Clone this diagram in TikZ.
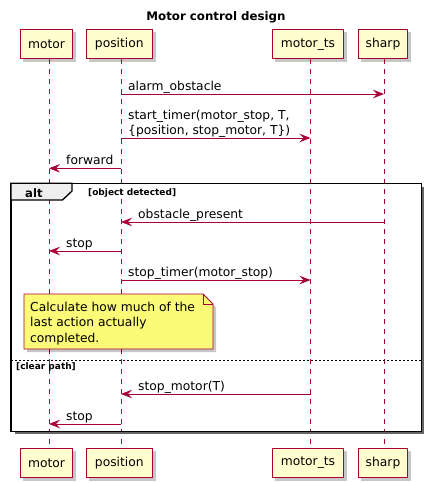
\documentclass[tikz,border=0pt]{standalone}
\usepackage{fontspec}
\setmainfont{DejaVu Sans}
\usetikzlibrary{arrows.meta,shadows,calc}
\definecolor{pred}{HTML}{A80036}
\definecolor{pfill}{HTML}{FEFECE}
\definecolor{nfill}{HTML}{FBFB77}
\definecolor{tabfill}{HTML}{EEEEEE}
\tikzset{
  sh/.style={drop shadow={shadow xshift=3pt,shadow yshift=-3pt,fill=black,opacity=0.22}},
  part/.style={draw=pred, fill=pfill, line width=1pt, minimum height=29.5pt, inner sep=0pt,
    font=\fontsize{12.3}{14}\selectfont, sh},
  life/.style={draw=pred, dash pattern=on 5pt off 5pt, line width=0.8pt},
  msg/.style={draw=pred, line width=0.9pt, -{Stealth[length=11pt,width=8.5pt,inset=4pt]}},
  lbl/.style={anchor=base west, inner sep=0pt, font=\fontsize{12.3}{15.5}\selectfont},
  guard/.style={anchor=base west, inner sep=0pt, font=\bfseries\fontsize{9}{11}\selectfont},
}
\begin{document}
\begin{tikzpicture}[x=1pt,y=-1pt]
\useasboundingbox[fill=white] (0,0) rectangle (431,483);
% title
\node[font=\bfseries\fontsize{11.8}{14}\selectfont, anchor=base, inner sep=0pt] (title) at (216,20) {Motor control design};
% participants
\node[part, minimum width=52.5pt] (motorT) at (46.5,44.2) {motor};
\node[part, minimum width=66.5pt] (positionT) at (119.3,44.2) {position};
\node[part, minimum width=71.5pt] (motortsT) at (308,44.2) {motor\_ts};
\node[part, minimum width=49.5pt] (sharpT) at (383,44.2) {sharp};
\node[part, minimum width=52.5pt] (motorB) at (46.5,462.8) {motor};
\node[part, minimum width=66.5pt] (positionB) at (119.3,462.8) {position};
\node[part, minimum width=71.5pt] (motortsB) at (308,462.8) {motor\_ts};
\node[part, minimum width=49.5pt] (sharpB) at (383,462.8) {sharp};
% lifeline x positions
\coordinate (lmotor) at (49,0);
\coordinate (lposition) at (121,0);
\coordinate (lmotorts) at (310.5,0);
\coordinate (lsharp) at (384,0);
\draw[life] (motorT.south -| lmotor) -- (motorB.north -| lmotor);
\draw[life] (positionT.south -| lposition) -- (positionB.north -| lposition);
\draw[life] (motortsT.south -| lmotorts) -- (motortsB.north -| lmotorts);
\draw[life] (sharpT.south -| lsharp) -- (sharpB.north -| lsharp);
% alt frame
\coordinate (ftl) at (11,183.3);
\coordinate (fbr) at (421.5,431.5);
\draw[black!60, line width=2.5pt] (423.1,186.5) -- (423.1,433.1) -- (14.5,433.1);
\draw[line width=1.5pt, black] (ftl) rectangle (fbr);
\draw[line width=1.3pt, fill=tabfill] (11,183.3) -- (72,183.3) -- (72,191) -- (62.5,200) -- (11,200) -- cycle;
\node[anchor=base west, inner sep=0pt, font=\bfseries\fontsize{11.6}{14}\selectfont] (alt) at (25,197.5) {alt};
\node[guard] (g1) at (88,195) {[object detected]};
\coordinate (sepL) at (11,360.3);
\coordinate (sepR) at (421.5,360.3);
\draw[line width=0.8pt, dash pattern=on 2pt off 2pt] (sepL) -- (sepR);
\node[guard] (g2) at (16,369.5) {[clear path]};
% note
\draw[draw=pred, fill=nfill, line width=0.9pt, drop shadow={shadow xshift=3pt,shadow yshift=-3pt,fill=black,opacity=0.22}]
  (24,294) -- (203,294) -- (213,304) -- (213,349) -- (24,349) -- cycle;
\draw[draw=pred, line width=0.9pt] (203,294) -- (203,304) -- (213,304);
\node[lbl] (note) at (30,311) {Calculate how much of the};
\node[lbl] at (30,326.8) {last action actually};
\node[lbl] at (30,342.5) {completed.};
% message rows
\coordinate (y1) at (0,94);
\coordinate (y2) at (0,138);
\coordinate (y3) at (0,168.3);
\coordinate (y4) at (0,222);
\coordinate (y5) at (0,251);
\coordinate (y6) at (0,280);
\coordinate (y7) at (0,394);
\coordinate (y8) at (0,424);
\draw[msg] (lposition |- y1) -- (lsharp |- y1);
\node[lbl] (t1) at (128,90.5) {alarm\_obstacle};
\draw[msg] (lposition |- y2) -- (lmotorts |- y2);
\node[lbl] (t2) at (128,119.5) {start\_timer(motor\_stop, T,};
\node[lbl] (t2b) at (128,134.5) {\{position, stop\_motor, T\})};
\draw[msg] (lposition |- y3) -- (lmotor |- y3);
\node[lbl] (t3) at (66,164.5) {forward};
\draw[msg] (lsharp |- y4) -- (lposition |- y4);
\node[lbl] (t4) at (138,218.5) {obstacle\_present};
\draw[msg] (lposition |- y5) -- (lmotor |- y5);
\node[lbl] (t5) at (66,247.5) {stop};
\draw[msg] (lposition |- y6) -- (lmotorts |- y6);
\node[lbl] (t6) at (128,276.5) {stop\_timer(motor\_stop)};
\draw[msg] (lmotorts |- y7) -- (lposition |- y7);
\node[lbl] (t7) at (138,390.5) {stop\_motor(T)};
\draw[msg] (lposition |- y8) -- (lmotor |- y8);
\node[lbl] (t8) at (66,420.5) {stop};
\end{tikzpicture}
\end{document}
